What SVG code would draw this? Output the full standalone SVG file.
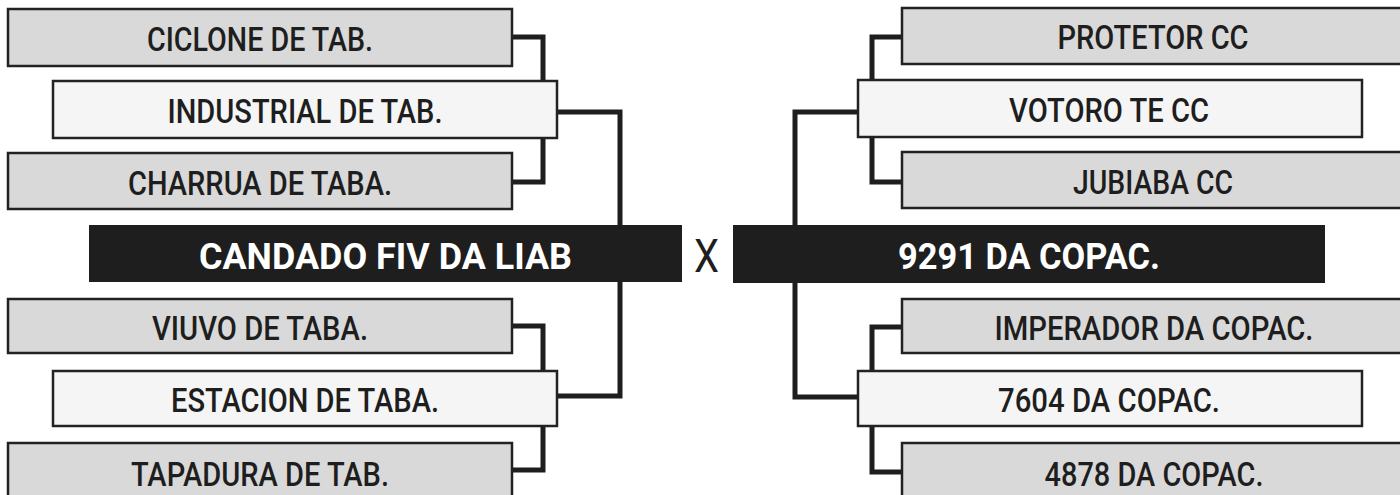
<svg xmlns="http://www.w3.org/2000/svg" width="1400" height="495" viewBox="0 0 1400 495">
<style>
.bg{fill:#ffffff}
.outer{fill:#d9d9d9;stroke:#222222;stroke-width:2.5}
.mid{fill:#f5f5f5;stroke:#222222;stroke-width:2.5}
.main{fill:#1e1e1e}
.lbl{font-family:Roboto,"Liberation Sans",sans-serif;font-size:34px;font-weight:500;fill:#1e1e1e;text-anchor:middle}
.mlbl{font-family:Roboto,"Liberation Sans",sans-serif;font-size:36px;font-weight:bold;fill:#ffffff;text-anchor:middle}
.x{font-family:Roboto,"Liberation Sans",sans-serif;font-size:47px;font-weight:400;fill:#1e1e1e;text-anchor:middle}
.con{fill:none;stroke:#1e1e1e;stroke-width:5;stroke-linejoin:miter;stroke-linecap:butt}
</style>
<rect class="bg" x="0" y="0" width="1400" height="495"/>
<g id="connectors">
<path class="con" d="M512,37 H543 V182 H512"/>
<path class="con" d="M557,112 H620 V396 H557"/>
<path class="con" d="M512,326 H543 V470 H512"/>
<path class="con" d="M902,37 H872 V182 H902"/>
<path class="con" d="M858,112 H795 V397 H858"/>
<path class="con" d="M902,327 H872 V472 H902"/>
</g>
<g id="ciclone"><rect class="outer" x="8" y="9" width="504" height="57"/><text class="lbl" x="260" y="51" textLength="226" lengthAdjust="spacingAndGlyphs">CICLONE DE TAB.</text></g>
<g id="industrial"><rect class="mid" x="53" y="81" width="504" height="57"/><text class="lbl" x="305" y="123" textLength="275" lengthAdjust="spacingAndGlyphs">INDUSTRIAL DE TAB.</text></g>
<g id="charrua"><rect class="outer" x="8" y="153" width="504" height="56"/><text class="lbl" x="260" y="195" textLength="264" lengthAdjust="spacingAndGlyphs">CHARRUA DE TABA.</text></g>
<g id="candado"><rect class="main" x="89" y="225" width="593" height="57"/><text class="mlbl" x="385.5" y="269" textLength="373" lengthAdjust="spacingAndGlyphs">CANDADO FIV DA LIAB</text></g>
<g id="viuvo"><rect class="outer" x="8" y="299" width="504" height="54"/><text class="lbl" x="260" y="340" textLength="216" lengthAdjust="spacingAndGlyphs">VIUVO DE TABA.</text></g>
<g id="estacion"><rect class="mid" x="53" y="371" width="504" height="55"/><text class="lbl" x="305" y="412" textLength="268" lengthAdjust="spacingAndGlyphs">ESTACION DE TABA.</text></g>
<g id="tapadura"><rect class="outer" x="8" y="443" width="504" height="60"/><text class="lbl" x="260" y="486" textLength="258" lengthAdjust="spacingAndGlyphs">TAPADURA DE TAB.</text></g>
<g id="versus"><text class="x" x="706.5" y="272" textLength="25" lengthAdjust="spacingAndGlyphs">X</text></g>
<g id="protetor"><rect class="outer" x="902" y="8" width="504" height="56"/><text class="lbl" x="1153" y="49" textLength="191" lengthAdjust="spacingAndGlyphs">PROTETOR CC</text></g>
<g id="votoro"><rect class="mid" x="858" y="80" width="504" height="57"/><text class="lbl" x="1109" y="122" textLength="200" lengthAdjust="spacingAndGlyphs">VOTORO TE CC</text></g>
<g id="jubiaba"><rect class="outer" x="902" y="152" width="504" height="56"/><text class="lbl" x="1153" y="194" textLength="160" lengthAdjust="spacingAndGlyphs">JUBIABA CC</text></g>
<g id="copac9291"><rect class="main" x="733" y="225" width="592" height="58"/><text class="mlbl" x="1029" y="269" textLength="262" lengthAdjust="spacingAndGlyphs">9291 DA COPAC.</text></g>
<g id="imperador"><rect class="outer" x="902" y="299" width="504" height="54"/><text class="lbl" x="1154" y="340" textLength="319" lengthAdjust="spacingAndGlyphs">IMPERADOR DA COPAC.</text></g>
<g id="copac7604"><rect class="mid" x="858" y="371" width="504" height="55"/><text class="lbl" x="1109" y="412" textLength="222" lengthAdjust="spacingAndGlyphs">7604 DA COPAC.</text></g>
<g id="copac4878"><rect class="outer" x="902" y="443" width="504" height="60"/><text class="lbl" x="1154" y="486" textLength="219" lengthAdjust="spacingAndGlyphs">4878 DA COPAC.</text></g>
</svg>
